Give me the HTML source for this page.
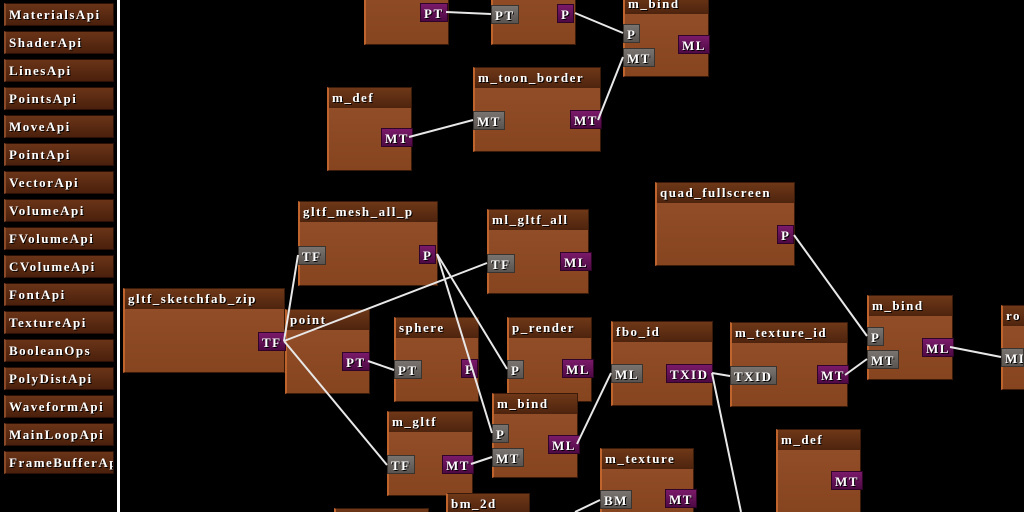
<!DOCTYPE html>
<html style="width:1024px;height:512px;overflow:hidden"><head><meta charset="utf-8"><style>
html,body{margin:0;width:1024px;height:512px;overflow:hidden;}
body{background:#000;position:relative;font-family:"Liberation Serif",serif;font-weight:bold;color:#fff;}
.b{position:absolute;left:4px;width:110px;height:23px;background:linear-gradient(#6a3418,#4a200c);border:1px solid #2a1006;border-left:2px solid #8a4a28;box-sizing:border-box;font-size:13px;letter-spacing:1.5px;line-height:21px;padding-left:3px;white-space:nowrap;overflow:hidden;text-shadow:1px 1px 0 #000;}
.sep{position:absolute;left:117px;top:0;width:3px;height:512px;background:#fff;}
.n{position:absolute;background:linear-gradient(#94502a,#86441f);border:1px solid #3a1a08;border-left:2px solid #c0642e;box-sizing:border-box;}
.t{position:absolute;left:0;top:0;right:0;height:20px;background:linear-gradient(#6e3818,#4e240e);font-size:13px;letter-spacing:1.5px;line-height:20px;padding-left:3px;white-space:nowrap;overflow:hidden;text-shadow:1px 1px 0 #000;}
.p{position:absolute;height:19px;font-size:13px;letter-spacing:1.5px;line-height:19px;padding:0 3px;box-sizing:border-box;text-shadow:1px 1px 0 #000;white-space:nowrap;}
.g{background:linear-gradient(#7a7470,#5a5450);border:1px solid #3a3430;}
.u{background:linear-gradient(#7a1a6a,#4e0a44);border:1px solid #300428;}
svg{position:absolute;left:0;top:0;}
</style></head><body>
<div class="b" style="top:3px">MaterialsApi</div>
<div class="b" style="top:31px">ShaderApi</div>
<div class="b" style="top:59px">LinesApi</div>
<div class="b" style="top:87px">PointsApi</div>
<div class="b" style="top:115px">MoveApi</div>
<div class="b" style="top:143px">PointApi</div>
<div class="b" style="top:171px">VectorApi</div>
<div class="b" style="top:199px">VolumeApi</div>
<div class="b" style="top:227px">FVolumeApi</div>
<div class="b" style="top:255px">CVolumeApi</div>
<div class="b" style="top:283px">FontApi</div>
<div class="b" style="top:311px">TextureApi</div>
<div class="b" style="top:339px">BooleanOps</div>
<div class="b" style="top:367px">PolyDistApi</div>
<div class="b" style="top:395px">WaveformApi</div>
<div class="b" style="top:423px">MainLoopApi</div>
<div class="b" style="top:451px">FrameBufferApi</div>
<div class="sep"></div>

<div class="n" style="left:364px;top:-40px;width:85px;height:85px"></div>
<div class="n" style="left:491px;top:-40px;width:85px;height:85px"></div>
<div class="n" style="left:623px;top:-7px;width:86px;height:84px"><div class="t">m_bind</div></div>
<div class="n" style="left:327px;top:87px;width:85px;height:84px"><div class="t">m_def</div></div>
<div class="n" style="left:473px;top:67px;width:128px;height:85px"><div class="t">m_toon_border</div></div>
<div class="n" style="left:655px;top:182px;width:140px;height:84px"><div class="t">quad_fullscreen</div></div>
<div class="n" style="left:298px;top:201px;width:140px;height:85px"><div class="t">gltf_mesh_all_p</div></div>
<div class="n" style="left:487px;top:209px;width:102px;height:85px"><div class="t">ml_gltf_all</div></div>
<div class="n" style="left:123px;top:288px;width:162px;height:85px"><div class="t">gltf_sketchfab_zip</div></div>
<div class="n" style="left:285px;top:309px;width:85px;height:85px"><div class="t">point</div></div>
<div class="n" style="left:394px;top:317px;width:85px;height:85px"><div class="t">sphere</div></div>
<div class="n" style="left:507px;top:317px;width:85px;height:85px"><div class="t">p_render</div></div>
<div class="n" style="left:611px;top:321px;width:102px;height:85px"><div class="t">fbo_id</div></div>
<div class="n" style="left:730px;top:322px;width:118px;height:85px"><div class="t">m_texture_id</div></div>
<div class="n" style="left:867px;top:295px;width:86px;height:85px"><div class="t">m_bind</div></div>
<div class="n" style="left:1001px;top:305px;width:23px;height:85px;border-right:none"><div class="t">ro</div></div>
<div class="n" style="left:387px;top:411px;width:86px;height:85px"><div class="t">m_gltf</div></div>
<div class="n" style="left:492px;top:393px;width:86px;height:85px"><div class="t">m_bind</div></div>
<div class="n" style="left:600px;top:448px;width:94px;height:64px;border-bottom:none"><div class="t">m_texture</div></div>
<div class="n" style="left:776px;top:429px;width:85px;height:83px;border-bottom:none"><div class="t">m_def</div></div>
<div class="n" style="left:446px;top:493px;width:84px;height:19px;border-bottom:none"><div class="t">bm_2d</div></div>
<div class="n" style="left:334px;top:508px;width:95px;height:4px;border-bottom:none"><div class="t"></div></div>

<div class="p u" style="left:420px;top:3px">PT</div>
<div class="p g" style="left:491px;top:5px">PT</div>
<div class="p u" style="left:557px;top:4px">P</div>
<div class="p g" style="left:623px;top:24px">P</div>
<div class="p g" style="left:623px;top:48px">MT</div>
<div class="p u" style="left:678px;top:35px">ML</div>
<div class="p u" style="left:381px;top:128px">MT</div>
<div class="p g" style="left:473px;top:111px">MT</div>
<div class="p u" style="left:570px;top:110px">MT</div>
<div class="p u" style="left:777px;top:225px">P</div>
<div class="p g" style="left:298px;top:246px">TF</div>
<div class="p u" style="left:419px;top:245px">P</div>
<div class="p g" style="left:487px;top:254px">TF</div>
<div class="p u" style="left:560px;top:252px">ML</div>
<div class="p u" style="left:258px;top:332px">TF</div>
<div class="p u" style="left:342px;top:352px">PT</div>
<div class="p g" style="left:394px;top:360px">PT</div>
<div class="p u" style="left:461px;top:359px">P</div>
<div class="p g" style="left:507px;top:360px">P</div>
<div class="p u" style="left:562px;top:359px">ML</div>
<div class="p g" style="left:611px;top:364px">ML</div>
<div class="p u" style="left:666px;top:364px">TXID</div>
<div class="p g" style="left:730px;top:366px">TXID</div>
<div class="p u" style="left:817px;top:365px">MT</div>
<div class="p g" style="left:867px;top:327px">P</div>
<div class="p g" style="left:867px;top:350px">MT</div>
<div class="p u" style="left:922px;top:338px">ML</div>
<div class="p g" style="left:1001px;top:348px;width:23px;overflow:hidden">MI</div>
<div class="p g" style="left:387px;top:455px">TF</div>
<div class="p u" style="left:442px;top:455px">MT</div>
<div class="p g" style="left:492px;top:424px">P</div>
<div class="p g" style="left:492px;top:448px">MT</div>
<div class="p u" style="left:548px;top:435px">ML</div>
<div class="p g" style="left:600px;top:490px">BM</div>
<div class="p u" style="left:665px;top:489px">MT</div>
<div class="p u" style="left:831px;top:471px">MT</div>

<svg width="1024" height="512" stroke="#e8e8e8" stroke-width="2" fill="none">
<line x1="446" y1="12" x2="491" y2="14"/>
<line x1="575" y1="13" x2="623" y2="33"/>
<line x1="409" y1="137" x2="473" y2="120"/>
<line x1="598" y1="120" x2="623" y2="57"/>
<line x1="794" y1="235" x2="867" y2="336"/>
<line x1="284" y1="341" x2="298" y2="255"/>
<line x1="284" y1="341" x2="487" y2="263"/>
<line x1="284" y1="341" x2="387" y2="465"/>
<line x1="437" y1="254" x2="507" y2="369"/>
<line x1="437" y1="254" x2="492" y2="433"/>
<line x1="368" y1="361" x2="394" y2="370"/>
<line x1="471" y1="464" x2="492" y2="457"/>
<line x1="577" y1="444" x2="611" y2="373"/>
<line x1="712" y1="373" x2="730" y2="376"/>
<line x1="712" y1="373" x2="741" y2="512"/>
<line x1="845" y1="375" x2="867" y2="359"/>
<line x1="950" y1="347" x2="1001" y2="357"/>
<line x1="575" y1="512" x2="600" y2="500"/>
</svg>
</body></html>
